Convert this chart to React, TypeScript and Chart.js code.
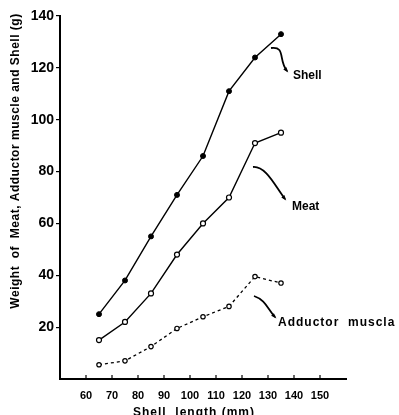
import React, { useEffect, useRef } from "react";
import { Chart, registerables } from "chart.js";

Chart.register(...registerables);

const shellLength = [65, 75, 85, 95, 105, 115, 125, 135];
const shellWeight = [25, 38, 55, 71, 86, 111, 124, 133];
const meatWeight = [15, 22, 33, 48, 60, 70, 91, 95];
const adductorWeight = [5.5, 7, 12.5, 19.5, 24, 28, 39.5, 37];
const xTickValues = [60, 70, 80, 90, 100, 110, 120, 130, 140, 150];
const yTickValues = [20, 40, 60, 80, 100, 120, 140];
const seriesLabels = ["Shell", "Meat", "Adductor muscle"];
const xTitle = "Shell  length (mm)";
const yTitle = "Weight  of  Meat, Adductor muscle and Shell (g)";

const FONT = "'Liberation Sans', Arial, sans-serif";

const annotationPlugin = {
  id: "annotations",
  afterDraw(chart: any) {
    const ctx = chart.ctx;
    const xs = chart.scales.x;
    ctx.save();
    ctx.strokeStyle = "#000";
    ctx.fillStyle = "#000";
    // inward x ticks
    ctx.lineWidth = 1.2;
    const bottom = chart.chartArea.bottom;
    xTickValues.forEach((v) => {
      const px = xs.getPixelForValue(v);
      ctx.beginPath();
      ctx.moveTo(px, bottom);
      ctx.lineTo(px, bottom - 4);
      ctx.stroke();
    });

    // curly arrows
    const arrow = (pts: number[][]) => {
      const [s, c1, c2, e] = pts;
      ctx.lineWidth = 1.8;
      ctx.beginPath();
      ctx.moveTo(s[0], s[1]);
      ctx.bezierCurveTo(c1[0], c1[1], c2[0], c2[1], e[0], e[1]);
      ctx.stroke();
      const ang = Math.atan2(e[1] - c2[1], e[0] - c2[0]);
      ctx.beginPath();
      ctx.moveTo(e[0] + 2 * Math.cos(ang), e[1] + 2 * Math.sin(ang));
      ctx.lineTo(e[0] - 4 * Math.cos(ang - 0.5), e[1] - 4 * Math.sin(ang - 0.5));
      ctx.lineTo(e[0] - 4 * Math.cos(ang + 0.5), e[1] - 4 * Math.sin(ang + 0.5));
      ctx.closePath();
      ctx.fill();
    };
    arrow([[271, 48], [286, 46], [278, 60], [287, 71]]);
    arrow([[253, 167], [266, 166], [275, 186], [285, 199]]);
    arrow([[254, 296], [266, 300], [268, 310], [275, 317]]);

    ctx.font = `bold 12px ${FONT}`;
    ctx.textBaseline = "middle";
    ctx.textAlign = "left";
    ctx.fillText(seriesLabels[0], 293, 76);
    ctx.fillText(seriesLabels[1], 292, 207);
    (ctx as any).letterSpacing = "1px";
    ctx.fillText("Adductor  muscla", 278, 323);
    (ctx as any).letterSpacing = "0px";

    // axis titles
    ctx.font = `bold 12px ${FONT}`;
    ctx.textAlign = "center";
    ctx.textBaseline = "top";
    (ctx as any).letterSpacing = "1px";
    ctx.fillText(xTitle, 194, 407);
    (ctx as any).letterSpacing = "0.5px";
    ctx.save();
    ctx.translate(16, 161);
    ctx.rotate(-Math.PI / 2);
    ctx.textBaseline = "middle";
    ctx.fillText(yTitle, 0, 0);
    ctx.restore();
    ctx.restore();
  },
};

export default function App() {
  const ref = useRef<HTMLCanvasElement>(null);
  useEffect(() => {
    if (!ref.current) return;
    const pts = (ys: number[]) => shellLength.map((x, i) => ({ x, y: ys[i] }));
    const chart = new Chart(ref.current, {
      type: "line",
      data: {
        datasets: [
          {
            label: seriesLabels[0],
            data: pts(shellWeight),
            borderColor: "#000",
            borderWidth: 1.4,
            backgroundColor: "#000",
            pointBackgroundColor: "#000",
            pointBorderColor: "#000",
            pointRadius: 2.5,
            pointBorderWidth: 1,
            tension: 0,
          },
          {
            label: seriesLabels[1],
            data: pts(meatWeight),
            borderColor: "#000",
            borderWidth: 1.4,
            pointBackgroundColor: "#fff",
            pointBorderColor: "#000",
            pointRadius: 2.5,
            pointBorderWidth: 1.2,
            tension: 0,
          },
          {
            label: seriesLabels[2],
            data: pts(adductorWeight),
            borderColor: "#000",
            borderWidth: 1.3,
            borderDash: [3, 3],
            pointBackgroundColor: "#fff",
            pointBorderColor: "#000",
            pointRadius: 2.2,
            pointBorderWidth: 1.2,
            tension: 0,
          },
        ],
      },
      options: {
        animation: false,
        responsive: false,
        maintainAspectRatio: false,
        layout: { padding: { top: 16, right: 53, left: 0, bottom: 0 } },
        plugins: { legend: { display: false }, tooltip: { enabled: false } },
        scales: {
          x: {
            type: "linear",
            min: 50,
            max: 160,
            afterBuildTicks: (s: any) => {
              s.ticks = xTickValues.map((v) => ({ value: v }));
            },
            afterFit: (s: any) => {
              s.height = 36;
            },
            grid: { display: false },
            border: { display: true, color: "#000", width: 2 },
            ticks: {
              color: "#000",
              padding: 2,
              maxRotation: 0,
              autoSkip: false,
              font: { family: FONT, size: 11, weight: "bold" },
              callback: (v: any) => String(v),
            },
          },
          y: {
            type: "linear",
            min: 0,
            max: 140,
            afterBuildTicks: (s: any) => {
              s.ticks = yTickValues.map((v) => ({ value: v }));
            },
            afterFit: (s: any) => {
              s.width = 60;
            },
            grid: {
              drawOnChartArea: false,
              drawTicks: true,
              tickLength: 4,
              color: "#000",
              lineWidth: 1.2,
            },
            border: { display: true, color: "#000", width: 2 },
            ticks: {
              color: "#000",
              padding: 2,
              autoSkip: false,
              font: { family: FONT, size: 14, weight: "bold" },
              callback: (v: any) => String(v),
            },
          },
        },
      },
      plugins: [annotationPlugin],
    } as any);
    return () => chart.destroy();
  }, []);
  return (
    <div style={{ position: "absolute", left: 0, top: 0, width: 399, height: 415, background: "#fff" }}>
      <canvas ref={ref} width={399} height={415} style={{ width: 399, height: 415 }} />
    </div>
  );
}
